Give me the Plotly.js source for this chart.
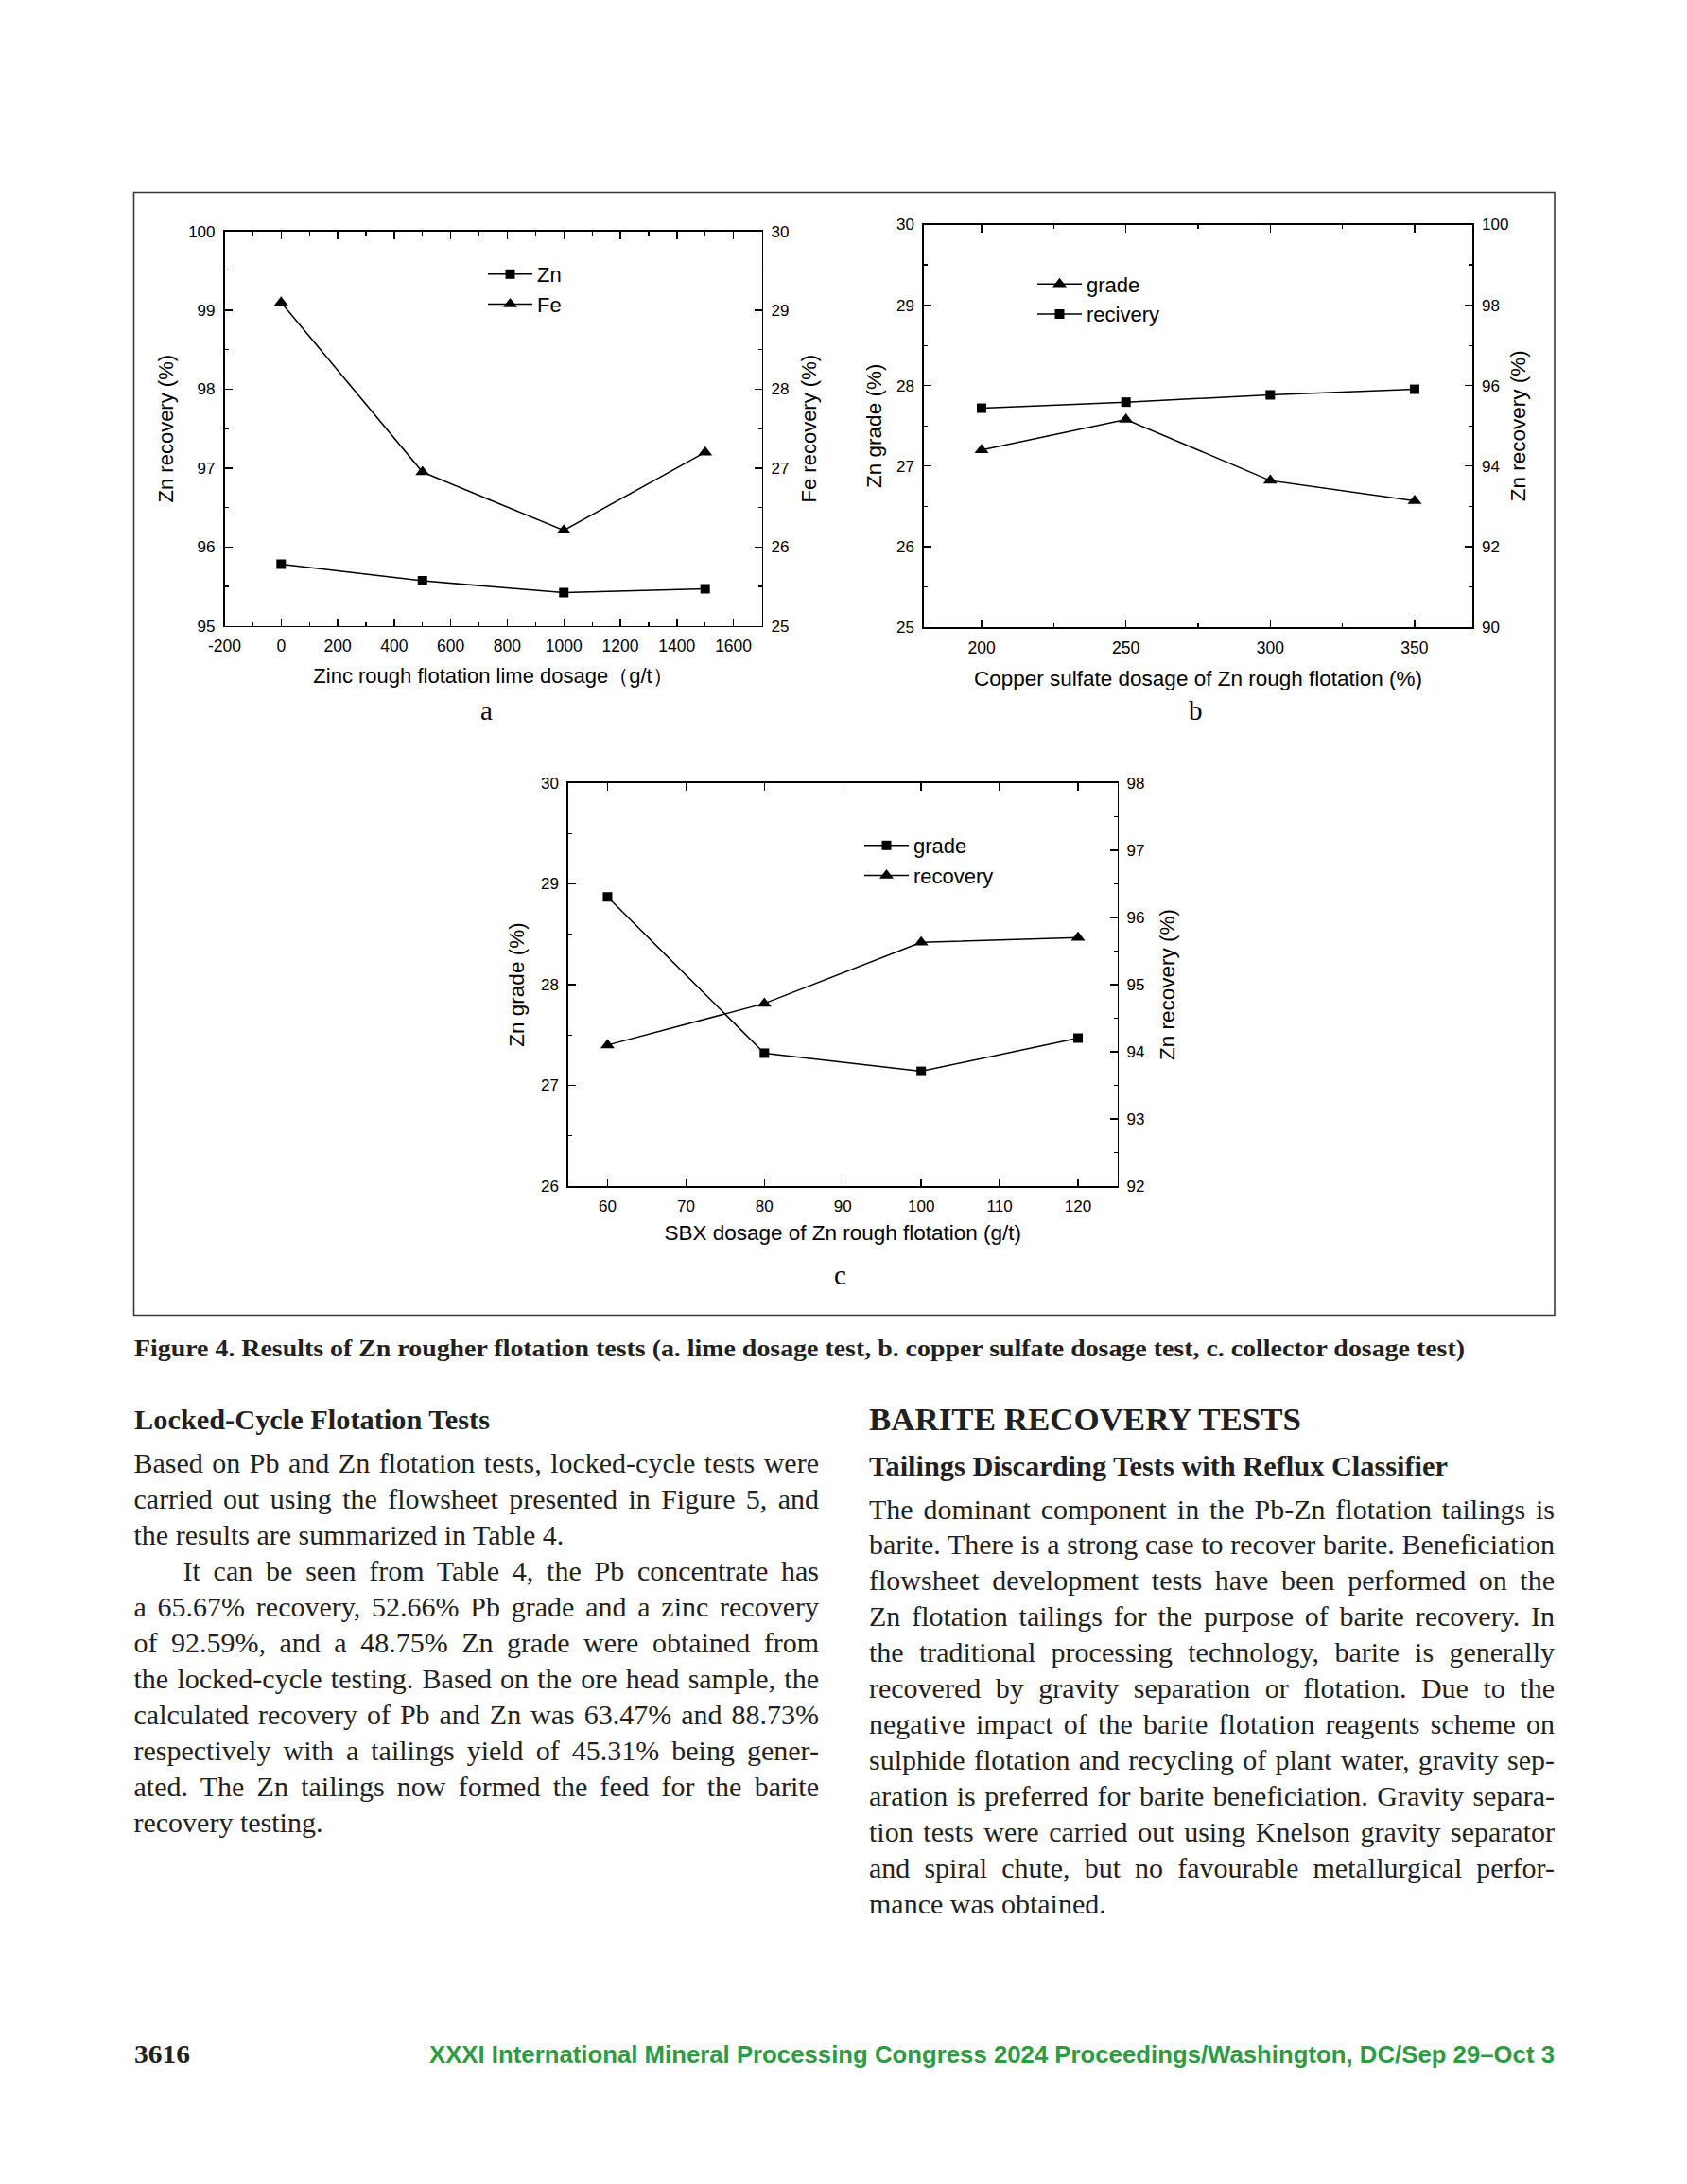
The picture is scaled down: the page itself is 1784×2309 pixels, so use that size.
<!DOCTYPE html>
<html><head><meta charset="utf-8">
<script src="https://cdn.plot.ly/plotly-3.0.1.min.js"></script>
<style>
html,body{margin:0;padding:0;background:#fff;}
#page{position:relative;width:1784px;height:2309px;overflow:hidden;background:#fff;}
#plot{position:absolute;left:0;top:0;width:1784px;height:2309px;}
.t{position:absolute;color:#231f20;white-space:nowrap;}
</style></head><body>
<div id="page"><div id="plot"></div></div>
<script>
// ---------- data ----------
const xA = [0, 500, 1000, 1500];
const znRecA = [95.78, 95.57, 95.42, 95.47];
const feRecA = [29.10, 26.95, 26.21, 27.20];

const xB = [200, 250, 300, 350];
const gradeB = [27.20, 27.58, 26.82, 26.57];
const recB = [95.44, 95.59, 95.77, 95.91];

const xC = [60, 80, 100, 120];
const gradeC = [28.87, 27.32, 27.14, 27.47];
const recC = [94.10, 94.72, 95.63, 95.70];

const ticksXA = [-200, 0, 200, 400, 600, 800, 1000, 1200, 1400, 1600];
const labelsXA = ['-200', '0', '200', '400', '600', '800', '1000', '1200', '1400', '1600'];

const captionText = 'Figure 4. Results of Zn rougher flotation tests (a. lime dosage test, b. copper sulfate dosage test, c. collector dosage test)';
const headLeft = 'Locked-Cycle Flotation Tests';
const headRight = 'BARITE RECOVERY TESTS';
const subheadRight = 'Tailings Discarding Tests with Reflux Classifier';
const leftLines = [
  'Based on Pb and Zn flotation tests, locked-cycle tests were',
  'carried out using the flowsheet presented in Figure 5, and',
  'the results are summarized in Table 4.',
  'It can be seen from Table 4, the Pb concentrate has',
  'a 65.67% recovery, 52.66% Pb grade and a zinc recovery',
  'of 92.59%, and a 48.75% Zn grade were obtained from',
  'the locked-cycle testing. Based on the ore head sample, the',
  'calculated recovery of Pb and Zn was 63.47% and 88.73%',
  'respectively with a tailings yield of 45.31% being gener-',
  'ated. The Zn tailings now formed the feed for the barite',
  'recovery testing.'
];
const rightLines = [
  'The dominant component in the Pb-Zn flotation tailings is',
  'barite. There is a strong case to recover barite. Beneficiation',
  'flowsheet development tests have been performed on the',
  'Zn flotation tailings for the purpose of barite recovery. In',
  'the traditional processing technology, barite is generally',
  'recovered by gravity separation or flotation. Due to the',
  'negative impact of the barite flotation reagents scheme on',
  'sulphide flotation and recycling of plant water, gravity sep-',
  'aration is preferred for barite beneficiation. Gravity separa-',
  'tion tests were carried out using Knelson gravity separator',
  'and spiral chute, but no favourable metallurgical perfor-',
  'mance was obtained.'
];
const pageNum = '3616';
const footerText = 'XXXI International Mineral Processing Congress 2024 Proceedings/Washington, DC/Sep 29\u2013Oct 3';

// ---------- geometry helpers ----------
const W = 1784, H = 2309;
const xd = (a, b) => [a / W, b / W];
const yd = (top, bottom) => [1 - bottom / H, 1 - top / H];
const SANS = 'Liberation Sans, Arial, sans-serif';
const SERIF = 'Liberation Serif, Times New Roman, serif';

function axisBase(fs) {
  return {
    showline: true, linecolor: '#000', linewidth: 1.6,
    ticks: 'inside', ticklen: 8, tickwidth: 1.4, tickcolor: '#000',
    showgrid: false, zeroline: false, ticklabelstandoff: 5,
    tickfont: {family: SANS, size: fs, color: '#000'},
    fixedrange: true
  };
}
function minor(d) { return {dtick: d, ticks: 'inside', ticklen: 4, tickwidth: 1.2, tickcolor: '#000', showgrid: false}; }
function ttl(text, fs, so) { return {text: text, font: {family: SANS, size: fs, color: '#000'}, standoff: so}; }

const lineStyle = {color: '#000', width: 1.5};
const sq = {symbol: 'square', size: 10, color: '#000'};
const tri = {symbol: 'triangle-up', size: 13, color: '#000'};

const traces = [
  {x: xA, y: znRecA, name: 'Zn', xaxis: 'x', yaxis: 'y', mode: 'lines+markers', line: lineStyle, marker: sq, legend: 'legend'},
  {x: xA, y: feRecA, name: 'Fe', xaxis: 'x', yaxis: 'y2', mode: 'lines+markers', line: lineStyle, marker: tri, legend: 'legend'},
  {x: xB, y: gradeB, name: 'grade', xaxis: 'x2', yaxis: 'y3', mode: 'lines+markers', line: lineStyle, marker: tri, legend: 'legend2'},
  {x: xB, y: recB, name: 'recivery', xaxis: 'x2', yaxis: 'y4', mode: 'lines+markers', line: lineStyle, marker: sq, legend: 'legend2'},
  {x: xC, y: gradeC, name: 'grade', xaxis: 'x3', yaxis: 'y5', mode: 'lines+markers', line: lineStyle, marker: sq, legend: 'legend3'},
  {x: xC, y: recC, name: 'recovery', xaxis: 'x3', yaxis: 'y6', mode: 'lines+markers', line: lineStyle, marker: tri, legend: 'legend3'}
];

const domA = {x: xd(237.5, 805.5), y: yd(244.8, 661.6)};
const domB = {x: xd(977, 1557), y: yd(237.5, 663)};
const domC = {x: xd(601, 1181.5), y: yd(828, 1254)};

function legendAt(x, y, fs) {
  return {x: x / W, y: 1 - y / H, xanchor: 'left', yanchor: 'top', bgcolor: 'rgba(0,0,0,0)',
    borderwidth: 0, font: {family: SANS, size: fs, color: '#000'}, itemwidth: 47, tracegroupgap: 0};
}

const layout = {
  width: W, height: H, margin: {l: 0, r: 0, t: 0, b: 0},
  paper_bgcolor: '#fff', plot_bgcolor: 'rgba(0,0,0,0)', showlegend: true,
  // plot a
  xaxis: Object.assign(axisBase(17.5), {domain: domA.x, anchor: 'y', range: [-200, 1700], tickmode: 'array',
    tickvals: ticksXA, ticktext: labelsXA, minor: minor(100), mirror: 'ticks',
    title: ttl('Zinc rough flotation lime dosage\uff08g/t\uff09', 22, 14)}),
  yaxis: Object.assign(axisBase(17), {domain: domA.y, anchor: 'x', range: [95, 100], dtick: 1, tick0: 95,
    minor: minor(0.5), title: ttl('Zn recovery (%)', 22, 9)}),
  yaxis2: Object.assign(axisBase(17), {overlaying: 'y', side: 'right', anchor: 'x', range: [25, 30], dtick: 1, tick0: 25,
    minor: minor(0.5), title: ttl('Fe recovery (%)', 22, 14)}),
  // plot b
  xaxis2: Object.assign(axisBase(17.5), {domain: domB.x, anchor: 'y3', range: [180, 370], tick0: 200, dtick: 50,
    minor: minor(25), mirror: 'ticks', title: ttl('Copper sulfate dosage of Zn rough flotation (%)', 22.5, 15)}),
  yaxis3: Object.assign(axisBase(17), {domain: domB.y, anchor: 'x2', range: [25, 30], dtick: 1, tick0: 25,
    minor: minor(0.5), title: ttl('Zn grade (%)', 22.5, 9)}),
  yaxis4: Object.assign(axisBase(17), {overlaying: 'y3', side: 'right', anchor: 'x2', range: [90, 100], dtick: 2, tick0: 90,
    minor: minor(1), title: ttl('Zn recovery (%)', 22.5, 3)}),
  // plot c
  xaxis3: Object.assign(axisBase(17), {domain: domC.x, anchor: 'y5', range: [55, 125], tick0: 60, dtick: 10,
    mirror: 'ticks', title: ttl('SBX dosage of Zn rough flotation (g/t)', 22.5, 11)}),
  yaxis5: Object.assign(axisBase(17), {domain: domC.y, anchor: 'x3', range: [26, 30], dtick: 1, tick0: 26,
    minor: minor(0.5), title: ttl('Zn grade (%)', 22.5, 11)}),
  yaxis6: Object.assign(axisBase(17), {overlaying: 'y5', side: 'right', anchor: 'x3', range: [92, 98], dtick: 1, tick0: 92,
    minor: minor(0.5), title: ttl('Zn recovery (%)', 22.5, 17)}),
  legend: legendAt(511, 269, 22),
  legend2: legendAt(1092, 279.5, 22),
  legend3: legendAt(909, 873, 22),
  shapes: [
    {type: 'rect', xref: 'paper', yref: 'paper', x0: 141.5 / W, x1: 1644 / W, y0: 1 - 1390.5 / H, y1: 1 - 203.5 / H,
      line: {color: '#3a3a3a', width: 1.6}, fillcolor: 'rgba(0,0,0,0)'}
  ],
  annotations: [
    {text: 'a', x: 514 / W, y: 1 - 751 / H, xref: 'paper', yref: 'paper', showarrow: false, xanchor: 'center', yanchor: 'middle', font: {family: SERIF, size: 29, color: '#000'}},
    {text: 'b', x: 1264 / W, y: 1 - 751 / H, xref: 'paper', yref: 'paper', showarrow: false, xanchor: 'center', yanchor: 'middle', font: {family: SERIF, size: 29, color: '#000'}},
    {text: 'c', x: 888 / W, y: 1 - 1348 / H, xref: 'paper', yref: 'paper', showarrow: false, xanchor: 'center', yanchor: 'middle', font: {family: SERIF, size: 29, color: '#000'}}
  ]
};

Plotly.newPlot('plot', traces, layout, {displayModeBar: false, staticPlot: true});

// ---------- page text ----------
const page = document.getElementById('page');
const TXT = '#231f20';
function place(it) {
  const d = document.createElement('div');
  d.className = 't';
  d.style.left = it.x + 'px';
  d.style.top = (it.y - it.lh / 2) + 'px';
  d.style.height = it.lh + 'px';
  d.style.lineHeight = it.lh + 'px';
  d.style.fontFamily = it.family;
  d.style.fontSize = it.size + 'px';
  d.style.fontWeight = it.weight || 400;
  d.style.color = it.color || TXT;
  const s = document.createElement('span');
  s.textContent = it.text;
  s.style.display = 'inline-block';
  s.style.whiteSpace = 'nowrap';
  d.appendChild(s);
  page.appendChild(d);
  const nat = s.getBoundingClientRect().width;
  if (it.mode === 'fit' || nat > it.w) {
    s.style.transformOrigin = '0 50%';
    s.style.transform = 'scaleX(' + (it.w / nat) + ')';
  } else if (it.mode === 'justify') {
    d.removeChild(s);
    d.textContent = it.text;
    d.style.whiteSpace = 'normal';
    d.style.width = it.w + 'px';
    d.style.textAlign = 'justify';
    d.style.textAlignLast = 'justify';
  }
}
function layoutText() {
  place({text: captionText, x: 141.5, y: 1426, w: 1407, lh: 34, size: 25, weight: 700, family: SERIF, mode: 'fit'});
  place({text: headLeft, x: 141.5, y: 1501, w: 376, lh: 36, size: 29, weight: 700, family: SERIF, mode: 'fit'});
  place({text: headRight, x: 919, y: 1501, w: 457, lh: 40, size: 33, weight: 700, family: SERIF, mode: 'fit'});
  place({text: subheadRight, x: 919, y: 1550, w: 612, lh: 36, size: 29, weight: 700, family: SERIF, mode: 'fit'});
  const step = 37.95;
  leftLines.forEach((t, i) => {
    const last = (i === 2 || i === leftLines.length - 1);
    const ind = (i === 3) ? 52 : 0;
    place({text: t, x: 141.5 + ind, y: 1547 + i * step, w: 724.5 - ind, lh: 38, size: 30, family: SERIF, mode: last ? 'left' : 'justify'});
  });
  rightLines.forEach((t, i) => {
    const last = (i === rightLines.length - 1);
    place({text: t, x: 919, y: 1595.5 + i * step, w: 725, lh: 38, size: 30, family: SERIF, mode: last ? 'left' : 'justify'});
  });
  place({text: pageNum, x: 141.5, y: 2171.5, w: 59, lh: 34, size: 28, weight: 700, family: SERIF, mode: 'fit'});
  place({text: footerText, x: 454, y: 2171.5, w: 1190, lh: 34, size: 26, weight: 700, family: 'Liberation Sans Narrow, Liberation Sans, Arial, sans-serif', color: '#2e9a42', mode: 'fit'});
}
if (document.fonts && document.fonts.ready) { document.fonts.ready.then(layoutText); } else { layoutText(); }
</script>
</body></html>
